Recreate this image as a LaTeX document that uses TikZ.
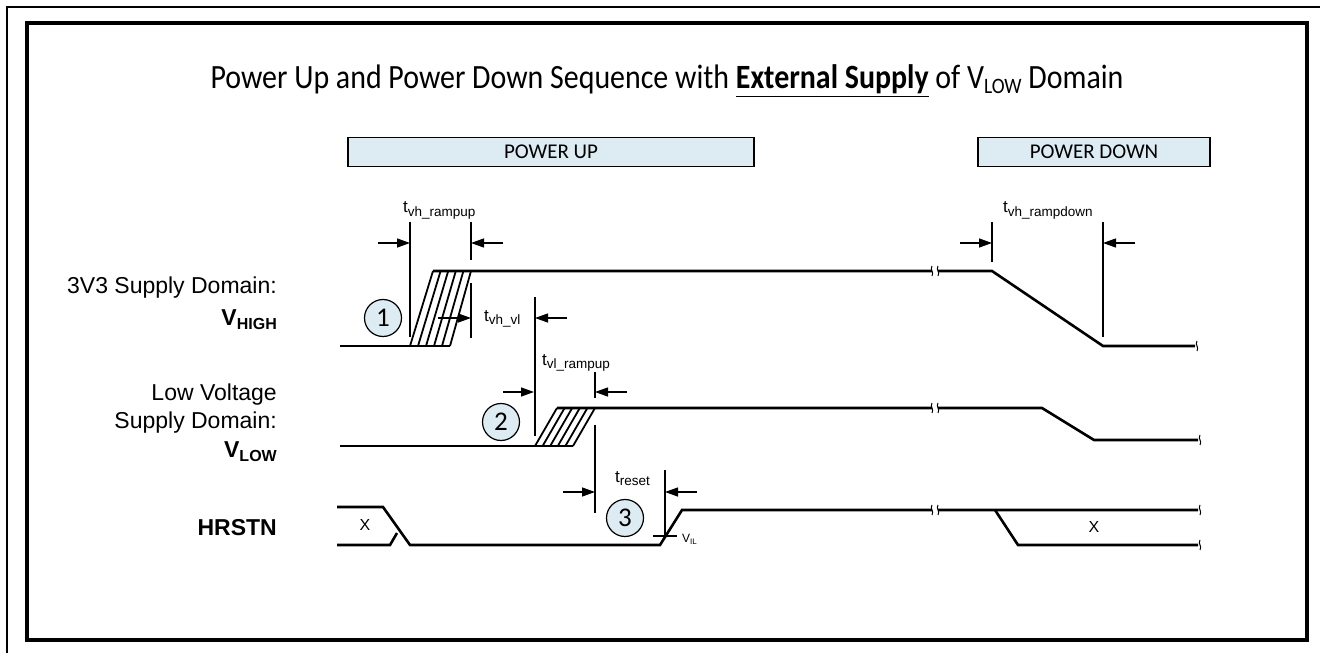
\documentclass[tikz,border=0pt]{standalone}
\usepackage{fontspec}
\usepackage{graphicx}
\setmainfont{Liberation Sans}
\newfontfamily\calfont{Carlito}
\usetikzlibrary{arrows.meta}
\definecolor{lblue}{RGB}{221,235,243}
\tikzset{
 sig/.style={line width=2.6pt, line join=miter},
 tline/.style={line width=1.3pt},
 hatch/.style={line width=1.8pt},
 dimarr/.style={line width=1.3pt, -{Triangle[length=13pt,width=9pt]}},
 brkline/.style={line width=1pt},
 numc/.style={circle, draw, line width=1.2pt, fill=lblue, minimum size=37pt, inner sep=0pt, font=\calfont\fontsize{27}{27}\selectfont},
 phase/.style={draw, line width=1.5pt, fill=lblue, minimum height=29pt, inner sep=0pt, font=\calfont\fontsize{21}{22}\selectfont},
 side/.style={anchor=base east, inner sep=0pt, font=\fontsize{23}{25}\selectfont},
 tlabel/.style={anchor=base west, inner sep=0pt, font=\fontsize{17}{20}\selectfont},
 xlabel/.style={inner sep=0pt, font=\fontsize{16}{18}\selectfont},
}
\newcommand{\tsub}[1]{t\raisebox{-3.5pt}{\fontsize{13.5}{14}\selectfont #1}}
\newcommand{\brkmark}[2]{%
  \fill[white] (#1-3,#2-4) rectangle (#1+3,#2+4);
  \draw[brkline] (#1-3,#2-5) .. controls (#1-5.5,#2-1) and (#1-0.5,#2+1) .. (#1-3,#2+5);
  \draw[brkline] (#1+3,#2-5) .. controls (#1+0.5,#2-1) and (#1+5.5,#2+1) .. (#1+3,#2+5);}
\newcommand{\rtmark}[2]{%
  \draw[brkline] (#1+1,#2-5) .. controls (#1-1.5,#2-1) and (#1+3.5,#2+1) .. (#1+1,#2+5);}
\begin{document}
\begin{tikzpicture}[x=1pt,y=-1pt]
\useasboundingbox (0,0) rectangle (1320,655);
% frames
\draw[line width=1.3pt] (7,653) -- (7,7) -- (1320,7);
\draw[line width=3.5pt] (27,23) rectangle (1307,640);
% title
\node[anchor=base, inner sep=0pt, font=\calfont\fontsize{34}{36}\selectfont] (title) at (667,89)
  {\scalebox{0.88}[1]{Power Up and Power Down Sequence with \underline{\textbf{External Supply}} of V\raisebox{-4.5pt}{\fontsize{22}{22}\selectfont LOW} Domain}};
% phase boxes
\node[phase, minimum width=406pt] (pup) at (551,152) {POWER UP};
\node[phase, minimum width=232pt] (pdown) at (1094,152) {POWER DOWN};
% side labels
\node[side] (l1) at (277,293) {3V3 Supply Domain:};
\node[side] (l2) at (277,325) {\textbf{V\raisebox{-4pt}{\fontsize{16}{16}\selectfont HIGH}}};
\node[side] (l3) at (277,400) {Low Voltage};
\node[side] (l4) at (277,428) {Supply Domain:};
\node[side] (l5) at (277,457) {\textbf{V\raisebox{-4pt}{\fontsize{16}{16}\selectfont LOW}}};
\node[side] (l6) at (277,535) {\textbf{HRSTN}};
% ---- V_HIGH
\draw[sig] (340,346) -- (450,346);
\draw[sig] (433,271) -- (992,271) -- (1103,346) -- (1195,346);
\foreach \i in {0,...,5} \draw[hatch] (410+8*\i,346) -- (433+7.6*\i,271);
\brkmark{935}{271}
\rtmark{1196}{346}
% ---- V_LOW
\draw[sig] (340,446) -- (573,446);
\draw[sig] (557,408) -- (1042,408) -- (1094,440) -- (1198,440);
\foreach \i in {0,...,5} \draw[hatch] (535+7.6*\i,446) -- (557+7.6*\i,408);
\brkmark{935}{408}
\rtmark{1199}{440}
% ---- HRSTN
\draw[sig] (337,507) -- (383,507) -- (410,545) -- (660,545) -- (682,510) -- (1198,510);
\draw[sig] (337,545) -- (390,545) -- (397,533);
\draw[sig] (995,510) -- (1018,545) -- (1198,545);
\brkmark{935}{510}
\rtmark{1199}{510}
\rtmark{1199}{545}
\node[xlabel] (x1) at (365,525) {X};
\node[xlabel] (x2) at (1094,527) {X};
% V_IL
\draw[tline] (653,536) -- (677,536);
\node[anchor=base west, inner sep=0pt, font=\fontsize{12}{12}\selectfont] (vil) at (682,542) {V\raisebox{-2pt}{\fontsize{8}{8}\selectfont IL}};
% ---- timing: t_vh_rampup
\draw[tline] (410,222) -- (410,337);
\draw[tline] (471,222) -- (471,260);
\draw[tline] (471,283) -- (471,338);
\coordinate (a1) at (378,243); \coordinate (a1e) at (410,243);
\coordinate (a2) at (503,243); \coordinate (a2e) at (471,243);
\draw[dimarr] (a1) -- (a1e);
\draw[dimarr] (a2) -- (a2e);
\node[tlabel] (tvhr) at (403,213) {\tsub{vh\_rampup}};
% t_vh_vl
\draw[tline] (535,297) -- (535,436);
\coordinate (b1) at (438,318); \coordinate (b1e) at (471,318);
\coordinate (b2) at (567,318); \coordinate (b2e) at (535,318);
\draw[dimarr] (b1) -- (b1e);
\draw[dimarr] (b2) -- (b2e);
\node[tlabel] (tvhvl) at (484,321) {\tsub{vh\_vl}};
% t_vl_rampup
\draw[tline] (595,372) -- (595,398);
\draw[tline] (595,425) -- (595,513);
\coordinate (c1) at (503,392); \coordinate (c1e) at (534,392);
\coordinate (c2) at (627,392); \coordinate (c2e) at (595,392);
\draw[dimarr] (c1) -- (c1e);
\draw[dimarr] (c2) -- (c2e);
\node[tlabel] (tvlr) at (542,365) {\tsub{vl\_rampup}};
% t_reset
\draw[tline] (665,470) -- (665,537);
\coordinate (d1) at (563,492); \coordinate (d1e) at (595,492);
\coordinate (d2) at (697,492); \coordinate (d2e) at (665,492);
\draw[dimarr] (d1) -- (d1e);
\draw[dimarr] (d2) -- (d2e);
\node[tlabel] (trst) at (615,482) {\tsub{reset}};
% t_vh_rampdown
\draw[tline] (992,222) -- (992,262);
\draw[tline] (1103,222) -- (1103,337);
\coordinate (e1) at (960,243); \coordinate (e1e) at (992,243);
\coordinate (e2) at (1135,243); \coordinate (e2e) at (1103,243);
\draw[dimarr] (e1) -- (e1e);
\draw[dimarr] (e2) -- (e2e);
\node[tlabel] (tvhd) at (1003,213) {\tsub{vh\_rampdown}};
% circles
\node[numc] (n1) at (383,318) {1};
\node[numc] (n2) at (501,422) {2};
\node[numc] (n3) at (625,518) {3};
\end{tikzpicture}
\end{document}
